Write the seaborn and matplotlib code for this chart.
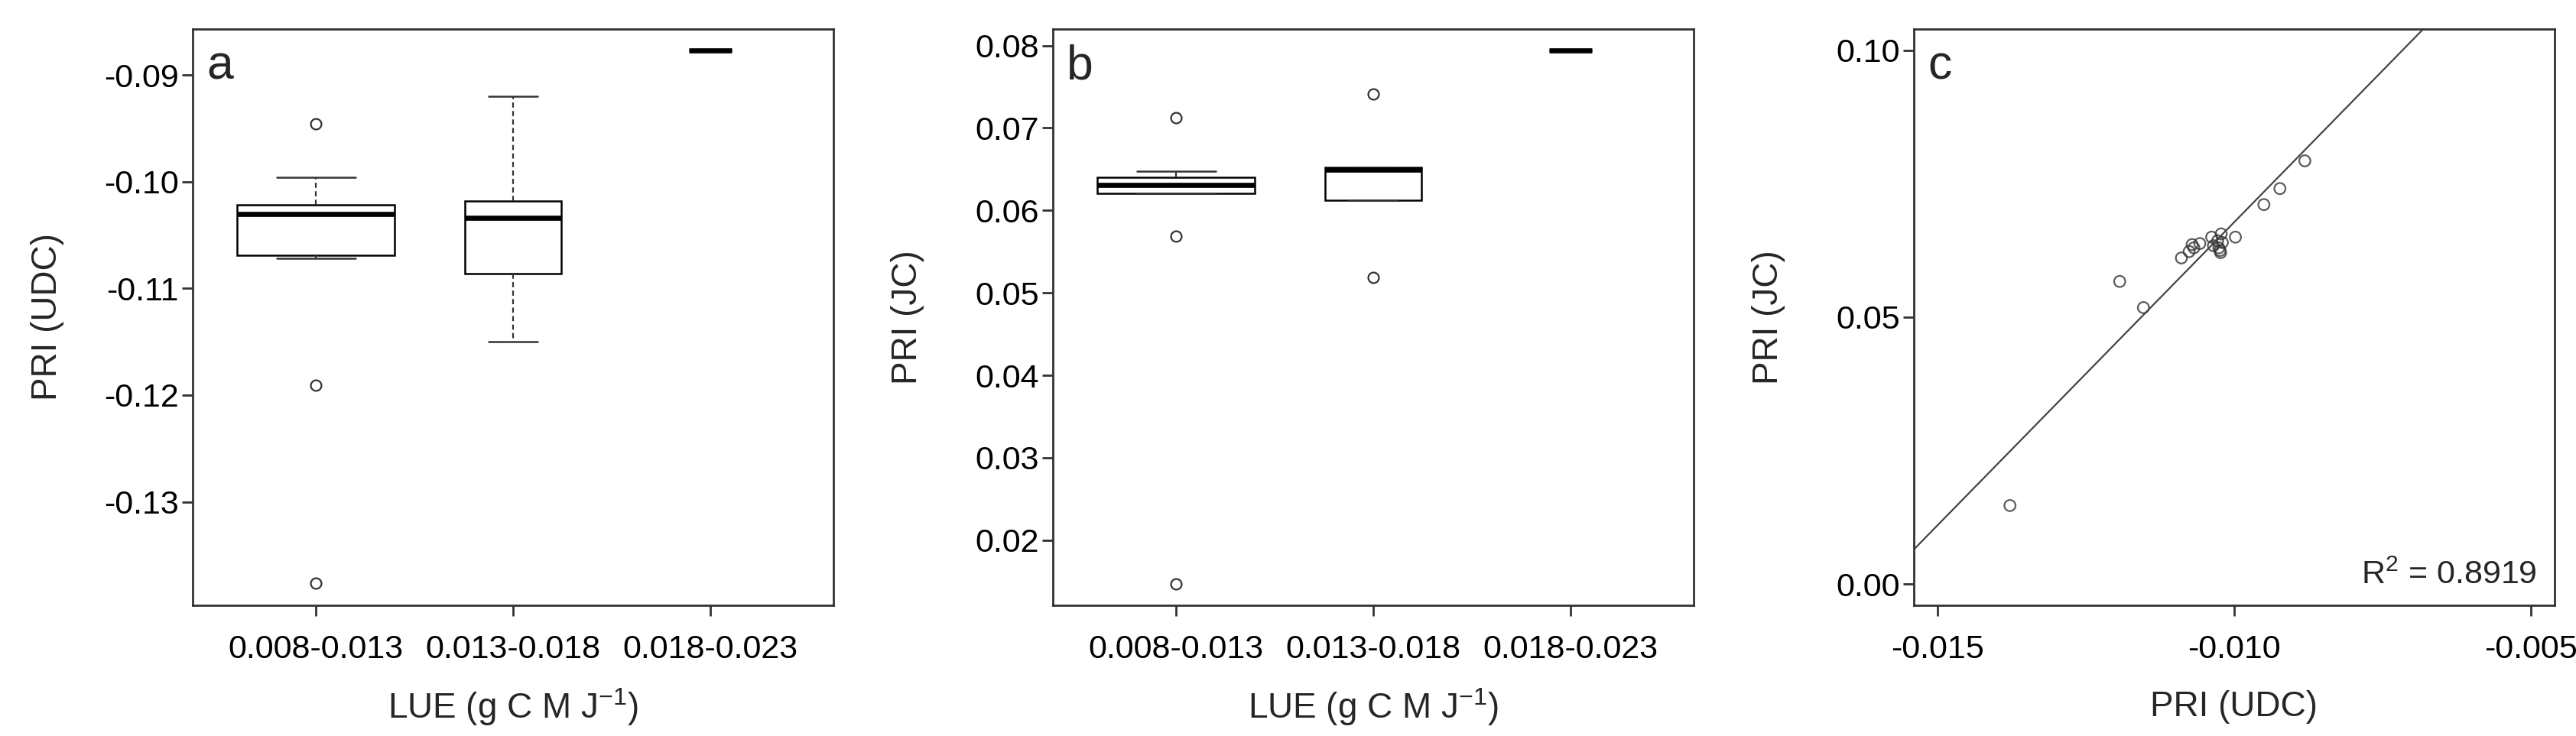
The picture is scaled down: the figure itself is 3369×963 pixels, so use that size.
import numpy as np
import pandas as pd
import seaborn as sns
import matplotlib
matplotlib.use("Agg")
import matplotlib.pyplot as plt

# LUE classes (x categories of panels a and b)
lue_classes = ["0.008-0.013", "0.013-0.018", "0.018-0.023"]

# PRI (UDC) values per LUE class (panel a)
udc_low = [-0.1376, -0.1191, -0.1072, -0.1070, -0.1066, -0.1040, -0.1031,
           -0.1029, -0.1027, -0.1025, -0.1021, -0.1010, -0.0996, -0.0946]
udc_mid = [-0.1150, -0.1086, -0.1034, -0.1018, -0.0920]
udc_high = [-0.0877]

# PRI (JC) values per LUE class (panel b)
jc_low = [0.0147, 0.0569, 0.0621, 0.0621, 0.0621, 0.0626, 0.0630,
          0.0632, 0.0635, 0.0638, 0.0641, 0.0644, 0.0648, 0.0712]
jc_mid = [0.0519, 0.0612, 0.0649, 0.0652, 0.0741]
jc_high = [0.0794]

# panel c scatter
c_udc = [-0.01378, -0.01193, -0.01153, -0.01089, -0.01076, -0.01071, -0.01068,
         -0.01058, -0.01038, -0.01035, -0.01028, -0.01026, -0.01023, -0.01024,
         -0.01022, -0.01020, -0.00998, -0.00950, -0.00923, -0.00881]
c_jc = [0.0147, 0.0567, 0.0518, 0.0611, 0.0623, 0.0636, 0.0630,
        0.0638, 0.0650, 0.0634, 0.0643, 0.0630, 0.0621, 0.0625,
        0.0656, 0.0640, 0.0650, 0.0711, 0.0741, 0.0793]
r2_text = "R$^{2}$ = 0.8919"

# box widths (R varwidth, ~sqrt(n))
box_widths = [0.80, 0.49, 0.217]

sns.set_style("white")
plt.rcParams["font.family"] = ["Liberation Sans", "DejaVu Sans"]
plt.rcParams["mathtext.default"] = "regular"

W, H = 3369, 963
fig = plt.figure(figsize=(W / 100, H / 100), dpi=100)

ax_top, ax_bot = 38, 792
ax_w = 838
lefts = [252, 1377, 2503]
axes = []
for l in lefts:
    axes.append(fig.add_axes([l / W, 1 - ax_bot / H, ax_w / W, (ax_bot - ax_top) / H]))

frame_col = "#333333"
tick_fs = 31
label_fs = 33


def style_axis(ax):
    for s in ax.spines.values():
        s.set_visible(True)
        s.set_color(frame_col)
        s.set_linewidth(2.0)
    ax.tick_params(axis="both", direction="out", length=10, width=2.0,
                   color=frame_col, labelsize=tick_fs, labelcolor="black",
                   left=True, bottom=True)
    ax.tick_params(axis="x", pad=17)
    ax.tick_params(axis="y", pad=3)
    ax.yaxis.label.set_va("center")
    ax.yaxis.set_label_coords(-190 / ax_w, 0.5)
    ax.xaxis.label.set_va("center")
    ax.xaxis.set_label_coords(0.5, -(925 - ax_bot) / (ax_bot - ax_top))


def draw_boxes(ax, groups):
    for vals, cls, w in zip(groups, lue_classes, box_widths):
        df = pd.DataFrame({"lue": cls, "pri": vals})
        sns.boxplot(data=df, x="lue", y="pri", order=lue_classes, width=w, ax=ax,
                    whis=1.5,
                    boxprops=dict(facecolor="white", edgecolor="black", linewidth=1.8),
                    medianprops=dict(color="black", linewidth=4.8),
                    whiskerprops=dict(color="#333333", linewidth=1.6, linestyle=(0, (3, 2))),
                    capprops=dict(color="#333333", linewidth=1.8),
                    flierprops=dict(marker="o", markerfacecolor="none",
                                    markeredgecolor="#333333", markersize=10,
                                    markeredgewidth=1.6))
    ax.set_xlim(-0.625, 2.625)


# panel a
ax = axes[0]
draw_boxes(ax, [udc_low, udc_mid, udc_high])
ax.set_ylim(-0.1397, -0.0857)
ax.set_yticks([-0.09, -0.10, -0.11, -0.12, -0.13])
ax.set_yticklabels(["-0.09", "-0.10", "-0.11", "-0.12", "-0.13"])
ax.set_xlabel("LUE (g C M J$^{-1}$)", fontsize=label_fs)
ax.set_ylabel("PRI (UDC)", fontsize=label_fs)
style_axis(ax)
ax.text(0.022, 0.935, "a", transform=ax.transAxes, fontsize=45, va="center", ha="left")

# panel b
ax = axes[1]
draw_boxes(ax, [jc_low, jc_mid, jc_high])
ax.set_ylim(0.0121, 0.0820)
ax.set_yticks([0.02, 0.03, 0.04, 0.05, 0.06, 0.07, 0.08])
ax.set_yticklabels(["0.02", "0.03", "0.04", "0.05", "0.06", "0.07", "0.08"])
ax.set_xlabel("LUE (g C M J$^{-1}$)", fontsize=label_fs)
ax.set_ylabel("PRI (JC)", fontsize=label_fs)
style_axis(ax)
ax.text(0.022, 0.935, "b", transform=ax.transAxes, fontsize=45, va="center", ha="left")

# panel c
ax = axes[2]
ax.set_xlim(-0.0154, -0.0046)
ax.set_ylim(-0.004, 0.104)
sns.regplot(x=np.array(c_udc), y=np.array(c_jc), ax=ax, ci=None, truncate=False,
            scatter_kws=dict(facecolors="none", edgecolors="#333333", s=110, linewidths=1.6),
            line_kws=dict(color="#444444", linewidth=1.6))
ax.set_xlim(-0.0154, -0.0046)
ax.set_ylim(-0.004, 0.104)
ax.set_xticks([-0.015, -0.010, -0.005])
ax.set_xticklabels(["-0.015", "-0.010", "-0.005"])
ax.set_yticks([0.00, 0.05, 0.10])
ax.set_yticklabels(["0.00", "0.05", "0.10"])
ax.set_xlabel("PRI (UDC)", fontsize=label_fs)
ax.set_ylabel("PRI (JC)", fontsize=label_fs)
style_axis(ax)
ax.text(0.022, 0.935, "c", transform=ax.transAxes, fontsize=45, va="center", ha="left")
ax.text(0.972, 0.052, r2_text, transform=ax.transAxes, fontsize=tick_fs,
        va="center", ha="right")

fig.savefig("out.png", dpi=100, facecolor="white")
